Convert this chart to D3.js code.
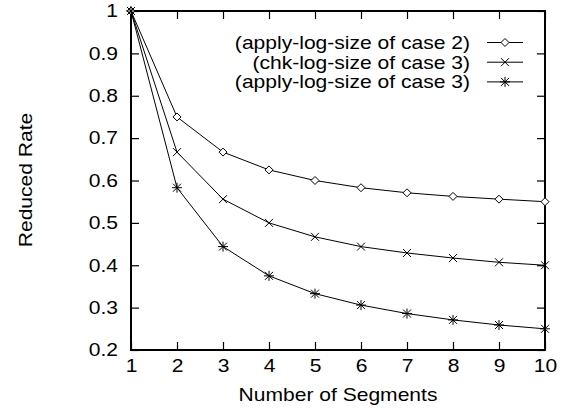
<!DOCTYPE html>
<html>
<head>
<meta charset="utf-8">
<style>
    body { margin: 0; background: #fff; }
    text { font-family: "Liberation Sans", Arial, sans-serif; fill: #000; }
    .frame { fill: none; stroke: #000; stroke-width: 2px; }
    .tick line { stroke: #000; stroke-width: 1.2px; }
    .series { fill: none; stroke: #000; stroke-width: 1px; }
    .mark { fill: #fff; stroke: #000; stroke-width: 1px; }
</style>
</head>
<body>
<div id="chart"></div>
<script src="https://cdn.jsdelivr.net/npm/d3@7"></script>
<script>
    // data
    var segments = [1, 2, 3, 4, 5, 6, 7, 8, 9, 10];
    var applyCase2 = [1, 0.75, 0.667, 0.625, 0.6, 0.583, 0.571, 0.5625, 0.556, 0.55];
    var chkCase3 = [1, 0.667, 0.556, 0.5, 0.467, 0.444, 0.429, 0.417, 0.407, 0.4];
    var applyCase3 = [1, 0.583, 0.444, 0.375, 0.333, 0.306, 0.286, 0.271, 0.259, 0.25];
    var seriesNames = ["(apply-log-size of case 2)", "(chk-log-size of case 3)", "(apply-log-size of case 3)"];
    var markerTypes = ["diamond", "cross", "star"];
    var yTicks = [0.2, 0.3, 0.4, 0.5, 0.6, 0.7, 0.8, 0.9, 1];

    var width = 569, height = 410;
    var margin = {left: 131, right: 24, top: 11, bottom: 60};

    var svg = d3.select("#chart").append("svg")
        .attr("width", width).attr("height", height);

    var x = d3.scaleLinear().domain([1, 10]).range([margin.left, width - margin.right]);
    var y = d3.scaleLinear().domain([0.2, 1]).range([height - margin.bottom, margin.top]);

    var fs = 18, sx = 1.17;

    // the reference font is a bit wider than it is tall
    function stretch(sel, extra) {
        sel.each(function(){
            var t = d3.select(this);
            var tx = +t.attr("x") || 0, ty = +t.attr("y") || 0;
            t.attr("x", null).attr("y", null)
                .attr("transform", "translate(" + tx + "," + ty + ")" + (extra || "") + " scale(" + sx + ",1)");
        });
    }

    // axes with inward ticks, mirrored on top/right
    var xAxis = svg.append("g").attr("transform", "translate(0," + y(0.2) + ")")
        .call(d3.axisBottom(x).tickValues(segments).tickSize(-8).tickPadding(10).tickFormat(d3.format("d")));
    var xTop = svg.append("g").attr("transform", "translate(0," + y(1) + ")")
        .call(d3.axisTop(x).tickValues(segments).tickSize(-8).tickFormat(""));
    var yAxis = svg.append("g").attr("transform", "translate(" + x(1) + ",0)")
        .call(d3.axisLeft(y).tickValues(yTicks).tickSize(-8).tickPadding(13).tickFormat(d3.format("")));
    var yRight = svg.append("g").attr("transform", "translate(" + x(10) + ",0)")
        .call(d3.axisRight(y).tickValues(yTicks).tickSize(-8).tickFormat(""));

    [xAxis, xTop, yAxis, yRight].forEach(function(a){
        a.select(".domain").remove();
        a.selectAll("text").attr("font-size", fs).attr("font-family", null);
    });
    xAxis.selectAll("text").attr("dy", "0.65em");
    stretch(xAxis.selectAll("text"));
    stretch(yAxis.selectAll("text"));

    svg.append("rect").attr("class", "frame")
        .attr("x", x(1)).attr("y", y(1))
        .attr("width", x(10) - x(1)).attr("height", y(0.2) - y(1));

    function marker(g, type, cx, cy) {
        var r = 4;
        if (type == "diamond") {
            g.append("path").attr("class", "mark")
                .attr("d", "M" + cx + "," + (cy - r) + "L" + (cx + r) + "," + cy + "L" + cx + "," + (cy + r) + "L" + (cx - r) + "," + cy + "Z");
        } else if (type == "cross") {
            g.append("path").attr("class", "mark")
                .attr("d", "M" + (cx - r) + "," + (cy - r) + "L" + (cx + r) + "," + (cy + r) + "M" + (cx - r) + "," + (cy + r) + "L" + (cx + r) + "," + (cy - r));
        } else {
            g.append("path").attr("class", "mark")
                .attr("d", "M" + (cx - r) + "," + (cy - r) + "L" + (cx + r) + "," + (cy + r) + "M" + (cx - r) + "," + (cy + r) + "L" + (cx + r) + "," + (cy - r)
                    + "M" + cx + "," + (cy - 5) + "L" + cx + "," + (cy + 5) + "M" + (cx - 5) + "," + cy + "L" + (cx + 5) + "," + cy);
        }
    }

    var line = d3.line().x(function(d, i){ return x(segments[i]); }).y(function(d){ return y(d); });
    var allSeries = [applyCase2, chkCase3, applyCase3];

    allSeries.forEach(function(vals, k){
        var g = svg.append("g");
        g.append("path").attr("class", "series").attr("d", line(vals));
        vals.forEach(function(v, i){ marker(g, markerTypes[k], x(segments[i]), y(v)); });
    });

    // legend
    var legend = svg.append("g");
    seriesNames.forEach(function(name, k){
        var ly = 42.5 + k * 19.7;
        var t = legend.append("text").attr("x", 470).attr("y", ly).attr("dy", "0.35em")
            .attr("text-anchor", "end").attr("font-size", fs).text(name);
        stretch(t);
        legend.append("line").attr("class", "series")
            .attr("x1", 487).attr("x2", 523).attr("y1", ly).attr("y2", ly);
        marker(legend, markerTypes[k], 505, ly);
    });

    // axis titles
    var xt = svg.append("text").attr("x", (x(1) + x(10)) / 2).attr("y", 401)
        .attr("text-anchor", "middle").attr("font-size", fs).text("Number of Segments");
    stretch(xt);
    var yt = svg.append("text").attr("x", 32).attr("y", 180)
        .attr("text-anchor", "middle").attr("font-size", fs).text("Reduced Rate");
    stretch(yt, " rotate(-90)");
</script>
</body>
</html>
